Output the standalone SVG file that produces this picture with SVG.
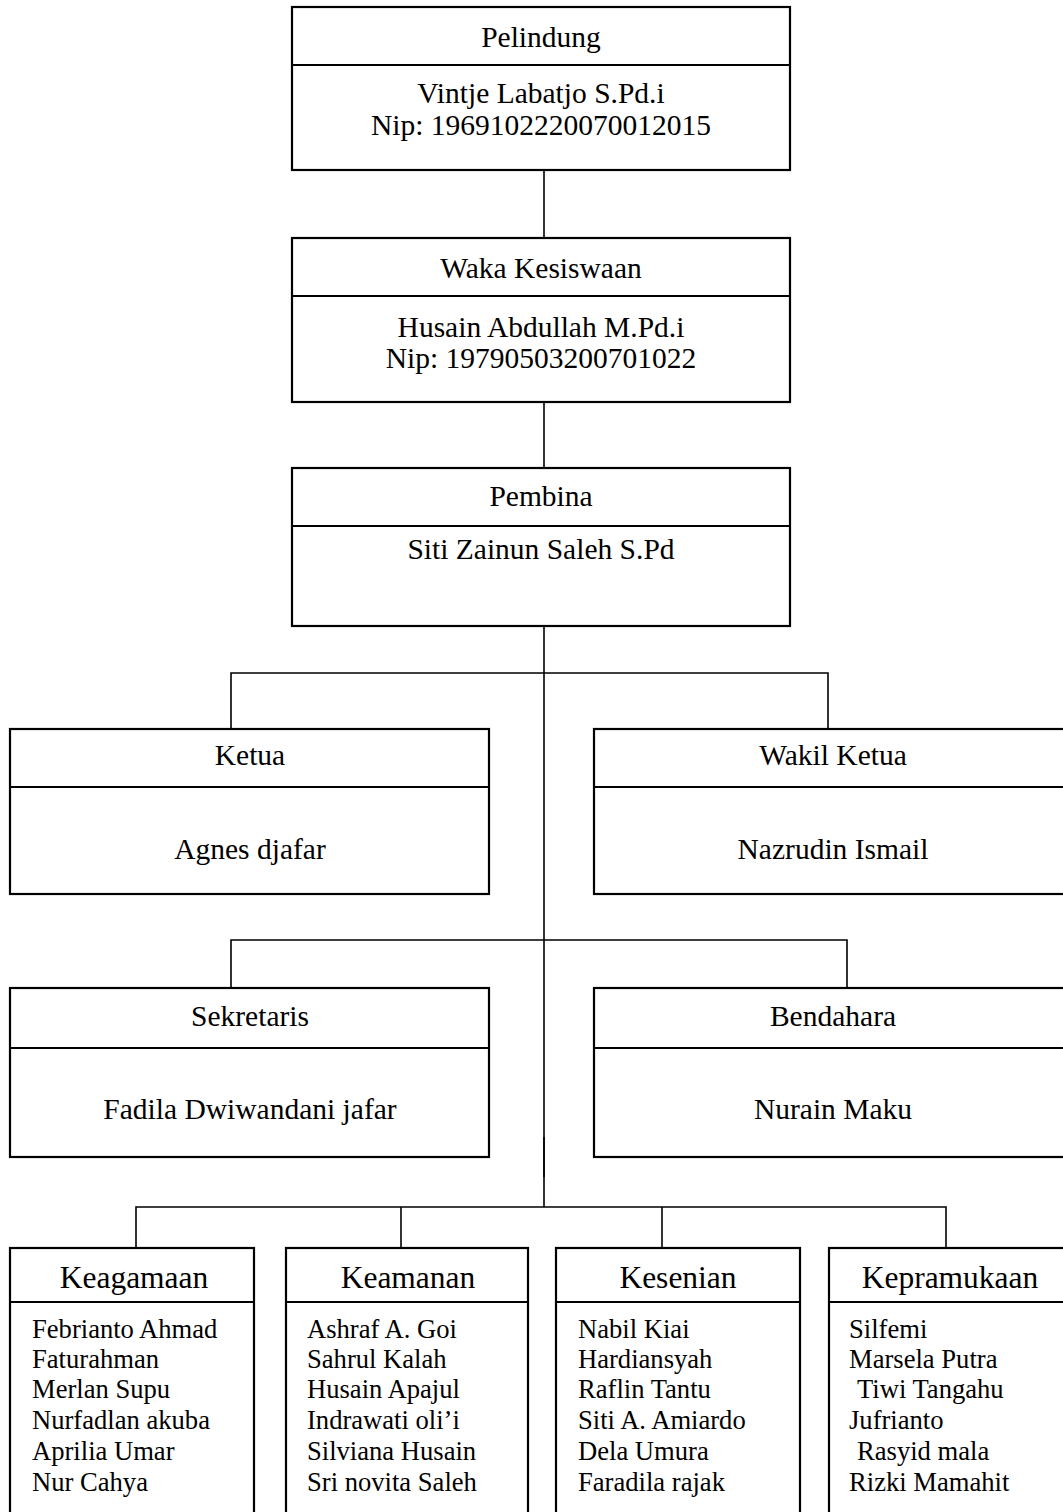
<svg xmlns="http://www.w3.org/2000/svg" width="1063" height="1512" viewBox="0 0 1063 1512">
<style>
.box{fill:#fff;stroke:#000;stroke-width:2.2}
.div{stroke:#000;stroke-width:2.2}
.con{stroke:#000;stroke-width:1.6;fill:none}
text{font-family:"Liberation Serif","Times New Roman",serif;fill:#000}
.t{font-size:29.5px;text-anchor:middle}
.h{font-size:31.5px;text-anchor:middle}
.n{font-size:26.6px}
</style>
<rect width="1063" height="1512" fill="#fff"/>
<g id="connectors">
<line class="con" x1="544" y1="170" x2="544" y2="238"/>
<line class="con" x1="544" y1="402" x2="544" y2="468"/>
<line class="con" x1="544" y1="626" x2="544" y2="1207"/>
<line class="con" x1="544" y1="1137" x2="544" y2="1177" stroke-width="2.4"/>
<polyline class="con" points="231,730 231,673 828,673 828,730"/>
<polyline class="con" points="231,988 231,940 847,940 847,988"/>
<polyline class="con" points="136,1248 136,1207 946,1207 946,1248"/>
<line class="con" x1="401" y1="1207" x2="401" y2="1248"/>
<line class="con" x1="662" y1="1207" x2="662" y2="1248"/>
</g>
<g id="pelindung">
<rect class="box" x="292" y="7" width="498" height="163"/>
<line class="div" x1="292" y1="65" x2="790" y2="65"/>
<text class="t" x="541" y="47">Pelindung</text>
<text class="t" x="541" y="103">Vintje Labatjo S.Pd.i</text>
<text class="t" x="541" y="135">Nip: 1969102220070012015</text>
</g>
<g id="waka">
<rect class="box" x="292" y="238" width="498" height="164"/>
<line class="div" x1="292" y1="296" x2="790" y2="296"/>
<text class="t" x="541" y="278">Waka Kesiswaan</text>
<text class="t" x="541" y="337">Husain Abdullah M.Pd.i</text>
<text class="t" x="541" y="368">Nip: 19790503200701022</text>
</g>
<g id="pembina">
<rect class="box" x="292" y="468" width="498" height="158"/>
<line class="div" x1="292" y1="526" x2="790" y2="526"/>
<text class="t" x="541" y="506">Pembina</text>
<text class="t" x="541" y="559">Siti Zainun Saleh S.Pd</text>
</g>
<g id="ketua">
<rect class="box" x="10" y="729" width="479" height="165"/>
<line class="div" x1="10" y1="787" x2="489" y2="787"/>
<text class="t" x="250" y="765">Ketua</text>
<text class="t" x="250" y="859">Agnes djafar</text>
</g>
<g id="wakil-ketua">
<rect class="box" x="594" y="729" width="478" height="165"/>
<line class="div" x1="594" y1="787" x2="1072" y2="787"/>
<text class="t" x="833" y="765">Wakil Ketua</text>
<text class="t" x="833" y="859">Nazrudin Ismail</text>
</g>
<g id="sekretaris">
<rect class="box" x="10" y="988" width="479" height="169"/>
<line class="div" x1="10" y1="1048" x2="489" y2="1048"/>
<text class="t" x="250" y="1026">Sekretaris</text>
<text class="t" x="250" y="1119">Fadila Dwiwandani jafar</text>
</g>
<g id="bendahara">
<rect class="box" x="594" y="988" width="478" height="169"/>
<line class="div" x1="594" y1="1048" x2="1072" y2="1048"/>
<text class="t" x="833" y="1026">Bendahara</text>
<text class="t" x="833" y="1119">Nurain Maku</text>
</g>
<g id="keagamaan">
<rect class="box" x="10" y="1248" width="244" height="270"/>
<line class="div" x1="10" y1="1302" x2="254" y2="1302"/>
<text class="h" x="134" y="1288">Keagamaan</text>
<text class="n" x="32" y="1338">Febrianto Ahmad</text>
<text class="n" x="32" y="1368">Faturahman</text>
<text class="n" x="32" y="1398">Merlan Supu</text>
<text class="n" x="32" y="1429">Nurfadlan akuba</text>
<text class="n" x="32" y="1460">Aprilia Umar</text>
<text class="n" x="32" y="1491">Nur Cahya</text>
</g>
<g id="keamanan">
<rect class="box" x="286" y="1248" width="242" height="270"/>
<line class="div" x1="286" y1="1302" x2="528" y2="1302"/>
<text class="h" x="408" y="1288">Keamanan</text>
<text class="n" x="307" y="1338">Ashraf A. Goi</text>
<text class="n" x="307" y="1368">Sahrul Kalah</text>
<text class="n" x="307" y="1398">Husain Apajul</text>
<text class="n" x="307" y="1429">Indrawati oli’i</text>
<text class="n" x="307" y="1460">Silviana Husain</text>
<text class="n" x="307" y="1491">Sri novita Saleh</text>
</g>
<g id="kesenian">
<rect class="box" x="556" y="1248" width="244" height="270"/>
<line class="div" x1="556" y1="1302" x2="800" y2="1302"/>
<text class="h" x="678" y="1288">Kesenian</text>
<text class="n" x="578" y="1338">Nabil Kiai</text>
<text class="n" x="578" y="1368">Hardiansyah</text>
<text class="n" x="578" y="1398">Raflin Tantu</text>
<text class="n" x="578" y="1429">Siti A. Amiardo</text>
<text class="n" x="578" y="1460">Dela Umura</text>
<text class="n" x="578" y="1491">Faradila rajak</text>
</g>
<g id="kepramukaan">
<rect class="box" x="829" y="1248" width="250" height="270"/>
<line class="div" x1="829" y1="1302" x2="1079" y2="1302"/>
<text class="h" x="950" y="1288">Kepramukaan</text>
<text class="n" x="849" y="1338">Silfemi</text>
<text class="n" x="849" y="1368">Marsela Putra</text>
<text class="n" x="857" y="1398">Tiwi Tangahu</text>
<text class="n" x="849" y="1429">Jufrianto</text>
<text class="n" x="857" y="1460">Rasyid mala</text>
<text class="n" x="849" y="1491">Rizki Mamahit</text>
</g>
</svg>
